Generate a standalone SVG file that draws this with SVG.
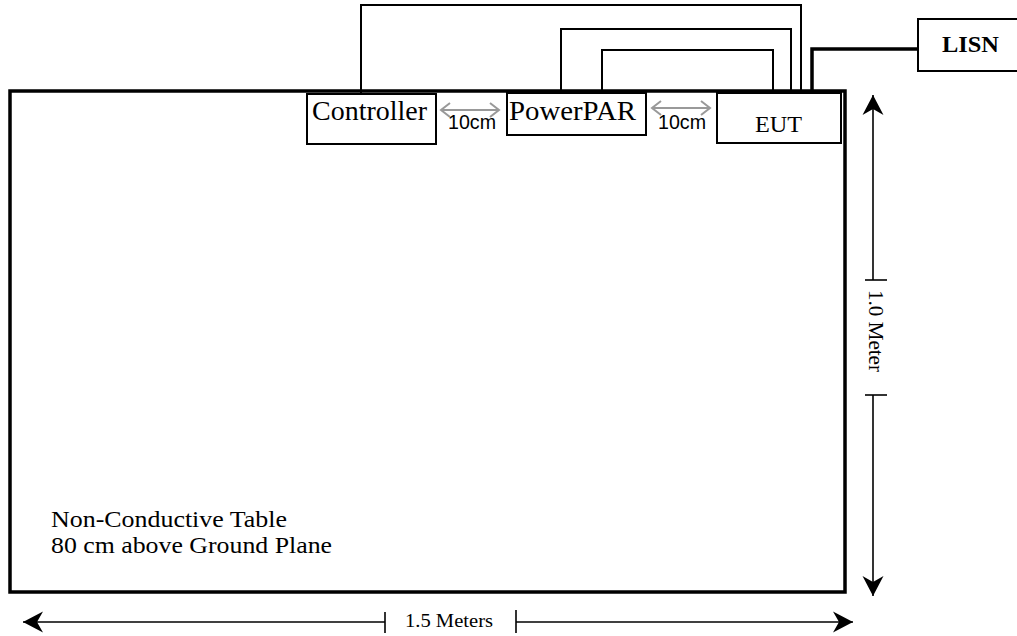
<svg xmlns="http://www.w3.org/2000/svg" width="1017" height="636" viewBox="0 0 1017 636">
<style>
.box{fill:#fff;stroke:#000;stroke-width:2}
.serif{font-family:'Liberation Serif','Times New Roman',Times,serif;fill:#000}
.sans{font-family:'Liberation Sans',Arial,sans-serif;fill:#000}
.wire{fill:none;stroke:#000;stroke-width:2}
.thick{fill:none;stroke:#000;stroke-width:3.5}
.dim{fill:none;stroke:#000;stroke-width:1.6}
.gap{fill:none;stroke:#999;stroke-width:2}
</style>
<defs>
<marker id="ah" markerUnits="userSpaceOnUse" viewBox="-1 -12 23 24" refX="20" refY="0" markerWidth="23" markerHeight="24" orient="auto-start-reverse">
<path d="M0,-10.5 L20,0 L0,10.5 L6,0 Z" fill="#000"/>
</marker>
<marker id="ga" markerUnits="userSpaceOnUse" viewBox="-2 -9 13 18" refX="9" refY="0" markerWidth="13" markerHeight="18" orient="auto-start-reverse">
<path d="M0,-7 L9,0 L0,7" fill="none" stroke="#999" stroke-width="2"/>
</marker>
</defs>
<rect width="1017" height="636" fill="#fff"/>
<g id="table">
<rect x="10" y="91" width="835" height="501" fill="none" stroke="#000" stroke-width="3.5"/>
<text class="serif" x="51" y="527" font-size="23" textLength="236" lengthAdjust="spacingAndGlyphs">Non-Conductive Table</text>
<text class="serif" x="51" y="553" font-size="23" textLength="281" lengthAdjust="spacingAndGlyphs">80 cm above Ground Plane</text>
</g>
<g id="connectors">
<polyline class="wire" points="361,93 361,5 801,5 801,91"/>
<polyline class="wire" points="561,93 561,29 791,29 791,91"/>
<polyline class="wire" points="602,93 602,50 773,50 773,91"/>
<polyline class="thick" points="812,91 812,49 918,49"/>
</g>
<g id="controller">
<rect class="box" x="307" y="94" width="129" height="50"/>
<text class="serif" x="312" y="120" font-size="28" textLength="115" lengthAdjust="spacingAndGlyphs">Controller</text>
</g>
<g id="powerpar">
<rect class="box" x="507" y="93" width="139" height="42"/>
<text class="serif" x="509" y="120" font-size="28" textLength="127" lengthAdjust="spacingAndGlyphs">PowerPAR</text>
</g>
<g id="eut">
<rect class="box" x="717" y="93" width="124" height="50"/>
<text class="serif" x="755" y="132" font-size="24" textLength="47" lengthAdjust="spacingAndGlyphs">EUT</text>
</g>
<g id="lisn">
<rect class="box" x="918" y="19" width="102" height="52"/>
<text class="serif" x="942" y="52" font-size="24" font-weight="bold" textLength="57" lengthAdjust="spacingAndGlyphs">LISN</text>
</g>
<g id="spacing">
<line class="gap" x1="441" y1="110" x2="499" y2="110" marker-start="url(#ga)" marker-end="url(#ga)"/>
<text class="sans" x="448" y="129" font-size="20" textLength="48" lengthAdjust="spacingAndGlyphs">10cm</text>
<line class="gap" x1="652" y1="108" x2="710" y2="108" marker-start="url(#ga)" marker-end="url(#ga)"/>
<text class="sans" x="658" y="129" font-size="20" textLength="48" lengthAdjust="spacingAndGlyphs">10cm</text>
</g>
<g id="dimensions">
<line class="dim" x1="23" y1="622" x2="385" y2="622" marker-start="url(#ah)"/>
<line class="dim" x1="385" y1="612" x2="385" y2="633"/>
<line class="dim" x1="516" y1="610" x2="516" y2="633"/>
<line class="dim" x1="516" y1="622" x2="853" y2="622" marker-end="url(#ah)"/>
<text class="serif" x="405" y="627" font-size="19" textLength="88" lengthAdjust="spacingAndGlyphs">1.5 Meters</text>
<line class="dim" x1="873" y1="95" x2="873" y2="280" marker-start="url(#ah)"/>
<line class="dim" x1="865" y1="280" x2="887" y2="280"/>
<line class="dim" x1="865" y1="395" x2="887" y2="395"/>
<line class="dim" x1="873" y1="395" x2="873" y2="596" marker-end="url(#ah)"/>
<text class="serif" transform="translate(869,331) rotate(90)" x="0" y="0" font-size="20" text-anchor="middle" textLength="82" lengthAdjust="spacingAndGlyphs">1.0 Meter</text>
</g>
</svg>
